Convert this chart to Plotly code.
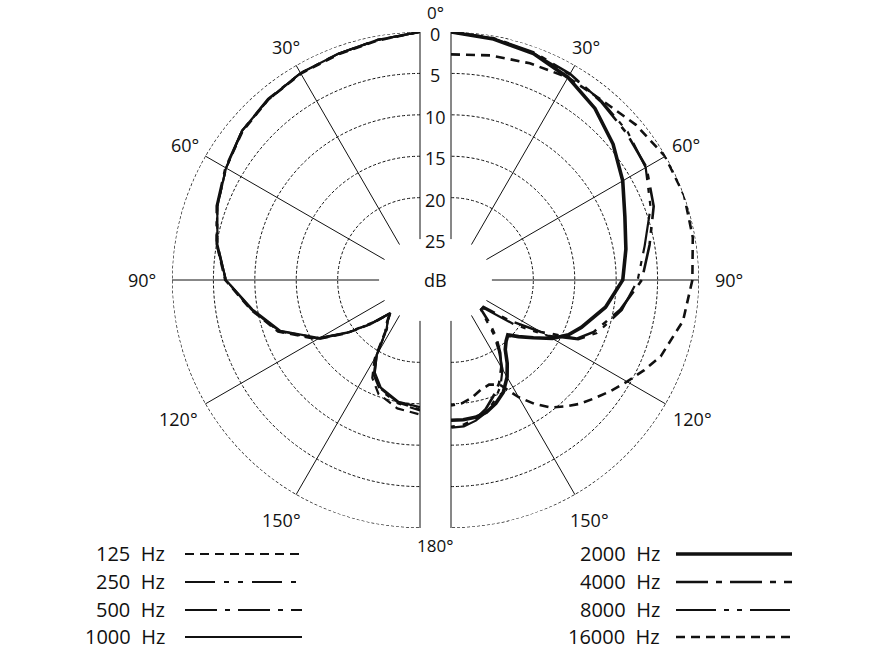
import math
import plotly.graph_objects as go

# polar pattern readings, attenuation in dB (0 = on-axis), angle in degrees
angles_low = [0, 10, 20, 30, 40, 50, 60, 70, 80, 90, 100, 110, 120, 126,
              132, 138, 142, 146, 150, 154, 160, 170, 180]
db_125 = [0, 0.6, 1.0, 1.2, 1.5, 2.0, 2.9, 3.9, 5.0, 6.4, 9.2, 11.7, 15.6, 19.0,
          22.0, 24.4, 23.4, 22.4, 19.0, 16.8, 15.3, 14.2, 13.7]
db_250 = [0, 0.5, 0.9, 1.1, 1.5, 1.9, 2.9, 3.9, 5.1, 6.5, 9.3, 11.8, 15.8, 19.1,
          22.2, 24.5, 23.6, 22.7, 19.4, 17.2, 15.8, 14.8, 14.2]
db_500 = [0, 0.5, 0.9, 1.1, 1.4, 1.9, 2.8, 3.8, 5.0, 6.5, 9.3, 11.9, 15.9, 19.2,
          22.3, 24.6, 23.6, 22.8, 19.5, 17.4, 16.0, 14.9, 14.3]
db_1000 = [0, 0.5, 0.9, 1.1, 1.45, 1.9, 2.9, 3.9, 5.1, 6.5, 9.4, 12.0, 15.9, 19.1,
           22.1, 24.5, 23.6, 22.7, 19.5, 17.5, 16.1, 15.0, 14.6]

angles_high = [0, 10, 20, 30, 40, 50, 60, 70, 80, 90, 100, 110, 115, 120, 125,
               130, 134, 138, 142, 146, 150, 155, 160, 165, 170, 175, 180]
db_2000 = [0, 0.4, 0.85, 1.7, 2.9, 4.4, 6.0, 7.6, 8.5, 9.2, 11.0, 13.2, 14.3, 15.8,
           17.8, 19.3, 20.4, 20.0, 19.3, 17.8, 16.4, 15.0, 14.1, 13.4, 13.1, 13.0, 13.0]
db_4000 = [0, 0.3, 0.7, 1.2, 1.8, 2.3, 2.7, 3.9, 5.6, 6.9, 9.2, 11.6, 13.2, 17.4,
           21.5, 25, 25, 23.0, 21.0, 19.3, 17.8, 16.2, 15.0, 13.8, 12.9, 12.4, 12.2]
db_8000 = [0, 0.35, 0.8, 1.3, 1.7, 2.1, 2.8, 4.3, 6.2, 7.4, 9.0, 11.2, 13.0, 16.5,
           20.5, 24.5, 25, 23.8, 21.5, 19.6, 17.5, 15.8, 14.5, 13.4, 12.7, 12.2, 12.1]
db_16000 = [2.7, 2.4, 2.1, 1.7, 1.6, 0.8, 0.1, 0.0, 0.3, 0.8, 1.5, 3.0, 4.2, 5.4,
            6.5, 7.6, 8.4, 9.4, 10.4, 11.9, 13.6, 16.0, 16.5, 16.2, 15.5, 15.0, 14.8]

radial_ticks = [0, 5, 10, 15, 20, 25]
angle_ticks = [0, 30, 60, 90, 120, 150, 180]

W, H = 869, 652
HOLE = 0.165
# half-disc geometry in pixels
LEFT_CX, RIGHT_CX, CY, R = 420, 451, 280, 248

SP = "\u00a0\u00a0"
low = [
    (f"125{SP}Hz", db_125, dict(color="#111", width=2.2, dash="9px,6px")),
    (f"250{SP}Hz", db_250, dict(color="#111", width=2.2, dash="30px,9px,5px,9px,5px,9px")),
    (f"500{SP}Hz", db_500, dict(color="#111", width=2.2, dash="32px,8px,5px,8px")),
    (f"1000{SP}Hz", db_1000, dict(color="#111", width=2.2)),
]
high = [
    (f"2000{SP}Hz", db_2000, dict(color="#111", width=3.6)),
    (f"4000{SP}Hz", db_4000, dict(color="#111", width=2.6, dash="32px,8px,6px,8px")),
    (f"8000{SP}Hz", db_8000, dict(color="#111", width=2.2, dash="40px,8px,5px,8px,5px,8px")),
    (f"16000{SP}Hz", db_16000, dict(color="#111", width=2.6, dash="9px,6px")),
]

fig = go.Figure()

# dashed outer ring (0 dB) on both halves
ring_theta = list(range(0, 181, 2))
for sp in ("polar", "polar2"):
    fig.add_trace(go.Scatterpolar(r=[0] * len(ring_theta), theta=ring_theta, mode="lines",
                                  line=dict(color="#111", width=1.3, dash="3px,2px"),
                                  subplot=sp, showlegend=False, hoverinfo="skip",
                                  cliponaxis=False))

for name, vals, line in low:
    fig.add_trace(go.Scatterpolar(r=[-v for v in vals], theta=angles_low, mode="lines",
                                  line=line, name=name, subplot="polar", showlegend=False))
for name, vals, line in high:
    fig.add_trace(go.Scatterpolar(r=[-v for v in vals], theta=angles_high, mode="lines",
                                  line=line, name=name, subplot="polar2", showlegend=False))


def px(x):
    return x / W


def py(y):
    return 1 - y / H


radial = dict(range=[-25, 0], tickvals=[-t for t in radial_ticks], showticklabels=False,
              ticks="", showline=False, gridcolor="#111", gridwidth=1, griddash="3px,2px")
angular = dict(rotation=90, tickvals=angle_ticks, showticklabels=False, ticks="",
               showline=False, gridcolor="#111", gridwidth=1)

fig.update_layout(
    width=W, height=H,
    margin=dict(l=0, r=0, t=0, b=0),
    paper_bgcolor="white", plot_bgcolor="white",
    polar=dict(domain=dict(x=[px(LEFT_CX - R), px(LEFT_CX)], y=[py(CY + R), py(CY - R)]),
               sector=[90, 270], hole=HOLE, bgcolor="white",
               radialaxis=radial, angularaxis=dict(angular, direction="counterclockwise")),
    polar2=dict(domain=dict(x=[px(RIGHT_CX), px(RIGHT_CX + R)], y=[py(CY + R), py(CY - R)]),
                sector=[-90, 90], hole=HOLE, bgcolor="white",
                radialaxis=radial, angularaxis=dict(angular, direction="clockwise")),
    font=dict(family="Open Sans", color="#111"),
)

mid = (LEFT_CX + RIGHT_CX) / 2


def label(x, y, text, size, xanchor="center"):
    fig.add_annotation(x=px(x), y=py(y), xref="paper", yref="paper", text=text,
                       xanchor=xanchor, yanchor="middle", showarrow=False,
                       font=dict(size=size))


# radial labels in the gap between the halves
for t in radial_ticks:
    rp = R * (HOLE + (1 - HOLE) * (25 - t) / 25)
    label(mid, CY - rp + 2, str(t), 18)
label(mid, CY, "dB", 18)

# angle labels
label_r = {30: 269, 60: 271, 90: 278, 120: 279, 150: 277}
label(mid, 13, "0°", 17)
label(mid, 545, "180°", 17)
for a in angle_ticks[1:-1]:
    s, c = math.sin(math.radians(a)), math.cos(math.radians(a))
    for cx, sign in ((LEFT_CX, -1), (RIGHT_CX, 1)):
        label(cx + sign * label_r[a] * s, CY - label_r[a] * c, f"{a}°", 18)

# legend
rows_y = [553, 581, 609, 636]
for items, text_x, x0, x1 in ((low, 167, 185, 302), (high, 662, 676, 792)):
    for (name, _, line), y in zip(items, rows_y):
        label(text_x, y, name, 20, xanchor="right")
        fig.add_shape(type="line", xref="paper", yref="paper", x0=px(x0), x1=px(x1),
                      y0=py(y + 1), y1=py(y + 1), line=line)

fig.write_html("out.html", config={"displayModeBar": False},
               post_script="document.body.style.margin='0';")
